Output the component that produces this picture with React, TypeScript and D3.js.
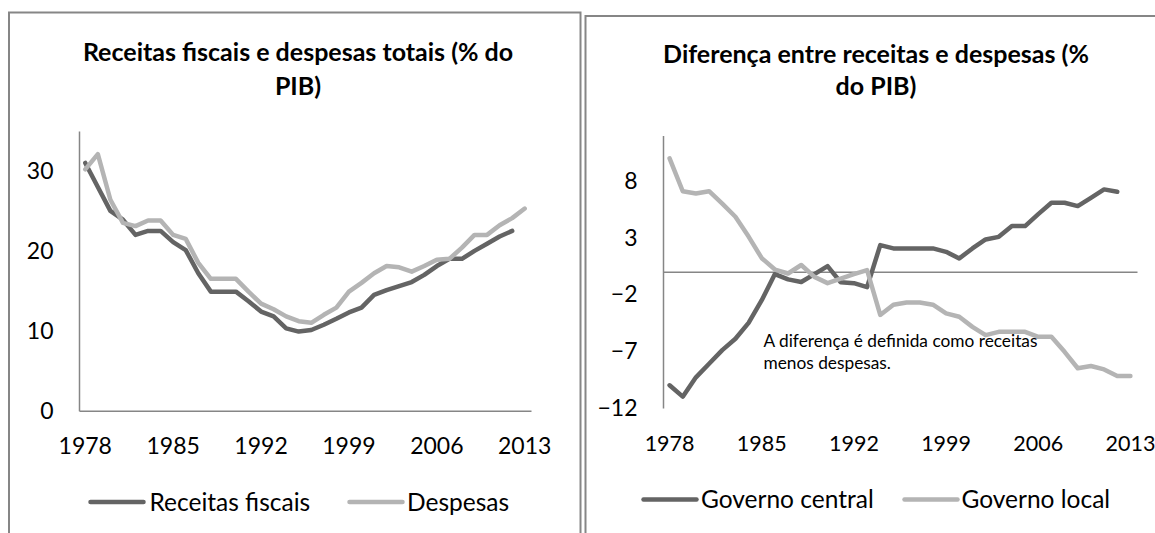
import { useEffect, useRef } from "react";
import * as d3 from "d3";

const years = d3.range(1978, 2014);
const xTicks = [1978, 1985, 1992, 1999, 2006, 2013];

// left chart: % of GDP (1978-2012 / 1978-2013)
const receitas = [
  31.0, 28.0, 25.0, 23.9, 22.0, 22.5, 22.5, 21.1, 20.1, 17.2, 14.9, 14.9, 14.9, 13.7, 12.4, 11.8, 10.3, 9.9,
  10.1, 10.75, 11.5, 12.3, 12.9, 14.5, 15.1, 15.6, 16.1, 17.0, 18.1, 19.0, 19.0, 20.0, 20.9, 21.8, 22.5,
];
const despesas = [
  30.2, 32.1, 26.4, 23.5, 23.1, 23.8, 23.8, 22.0, 21.5, 18.5, 16.5, 16.5, 16.5, 14.9, 13.4, 12.7, 11.8, 11.2,
  11.0, 12.0, 12.9, 14.9, 16.0, 17.2, 18.1, 17.95, 17.4, 18.1, 18.9, 19.0, 20.4, 22.0, 22.0, 23.2, 24.1, 25.3,
];
const leftTicks = [0, 10, 20, 30];

// right chart: receitas - despesas
const central = [
  -10.0, -11.0, -9.3, -8.1, -6.9, -5.9, -4.5, -2.5, -0.2, -0.67, -0.9, -0.2, 0.5, -0.93, -1.0, -1.35, 2.35, 2.06,
  2.06, 2.06, 2.06, 1.76, 1.18, 2.06, 2.85, 3.08, 4.03, 4.03, 5.08, 6.08, 6.08, 5.79, 6.52, 7.26, 7.05,
];
const local = [
  10.0, 7.1, 6.9, 7.1, 6.0, 4.85, 3.1, 1.2, 0.2, -0.15, 0.6, -0.45, -1.0, -0.6, -0.2, 0.15, -3.8, -2.9, -2.7,
  -2.7, -2.9, -3.66, -3.96, -4.85, -5.58, -5.29, -5.29, -5.29, -5.73, -5.73, -7.05, -8.5, -8.3, -8.6, -9.19,
  -9.19,
];
const rightTicks = [-12, -7, -2, 3, 8];

const DARK = "#646464";
const LIGHT = "#b4b4b4";
const AXIS = "#868686";
const FONT = "Lato, 'Open Sans', sans-serif";

type Panel = {
  titles: string[];
  titleX: number;
  titleY: number[];
  x0: number;
  x1: number;
  yDomain: [number, number];
  yRange: [number, number];
  yTicks: number[];
  xLabelY: number;
  xLabelSize: number;
  series: { name: string; values: number[]; color: string; lx: number; tx: number }[];
  legendY: number;
};

export default function App() {
  const svgRef = useRef<SVGSVGElement | null>(null);

  useEffect(() => {
    const svg = d3.select(svgRef.current);
    svg.selectAll("*").remove();

    // chart frames
    svg.append("rect").attr("x", 9).attr("y", 12.5).attr("width", 571.5).attr("height", 540)
      .attr("fill", "white").attr("stroke", AXIS).attr("stroke-width", 2);
    svg.append("rect").attr("x", 585.5).attr("y", 16).attr("width", 600).attr("height", 540)
      .attr("fill", "white").attr("stroke", AXIS).attr("stroke-width", 2);

    const panels: Panel[] = [
      {
        titles: ["Receitas fiscais e despesas totais (% do", "PIB)"],
        titleX: 298,
        titleY: [52, 86],
        x0: 79,
        x1: 531,
        yDomain: [0, 35],
        yRange: [410.7, 131],
        yTicks: leftTicks,
        xLabelY: 446,
        xLabelSize: 23,
        series: [
          { name: "Receitas fiscais", values: receitas, color: DARK, lx: 90.5, tx: 149.5 },
          { name: "Despesas", values: despesas, color: LIGHT, lx: 349.5, tx: 407 },
        ],
        legendY: 502,
      },
      {
        titles: ["Diferença entre receitas e despesas (%", "do PIB)"],
        titleX: 876,
        titleY: [54, 86.5],
        x0: 663,
        x1: 1137,
        yDomain: [-12, 12],
        yRange: [408, 135.6],
        yTicks: rightTicks,
        xLabelY: 443,
        xLabelSize: 21.5,
        series: [
          { name: "Governo central", values: central, color: DARK, lx: 643.5, tx: 701 },
          { name: "Governo local", values: local, color: LIGHT, lx: 904.5, tx: 961.5 },
        ],
        legendY: 499.5,
      },
    ];

    panels.forEach((p) => {
      const g = svg.append("g").style("font-family", FONT);

      const x = d3.scaleBand<number>().domain(years).range([p.x0, p.x1]).padding(0);
      const y = d3.scaleLinear().domain(p.yDomain).range(p.yRange);
      const cx = (yr: number) => (x(yr) ?? 0) + x.bandwidth() / 2;

      p.titles.forEach((t, i) => {
        g.append("text")
          .attr("x", p.titleX)
          .attr("y", p.titleY[i])
          .attr("dy", "0.35em")
          .attr("text-anchor", "middle")
          .attr("font-weight", "bold")
          .attr("font-size", 25)
          .attr("fill", "#000")
          .text(t);
      });

      // y axis
      const yAxis = g.append("g")
        .attr("transform", `translate(${p.x0},0)`)
        .call(d3.axisLeft(y).tickValues(p.yTicks).tickSize(0).tickSizeOuter(0).tickPadding(25.5)
          .tickFormat(d3.format("d")));
      yAxis.select(".domain").attr("stroke", AXIS).attr("stroke-width", 1.5);
      yAxis.selectAll("text").attr("font-size", 23).attr("fill", "#000").attr("font-family", FONT);

      // x axis line at zero
      const zero = g.append("g")
        .attr("transform", `translate(0,${y(0)})`)
        .call(d3.axisBottom(x).tickValues([]).tickSizeOuter(0));
      zero.select(".domain").attr("stroke", AXIS).attr("stroke-width", 1.5);

      // x labels
      const xAxis = g.append("g")
        .attr("transform", `translate(0,${p.xLabelY})`)
        .call(d3.axisBottom(x).tickValues(xTicks).tickSize(0).tickSizeOuter(0));
      xAxis.select(".domain").remove();
      xAxis.selectAll("text").attr("y", 0).attr("dy", "0.35em")
        .attr("font-size", p.xLabelSize).attr("fill", "#000").attr("font-family", FONT);

      const line = d3.line<number>()
        .x((_, i) => cx(years[i]))
        .y((d) => y(d));

      p.series.forEach((s) => {
        g.append("path")
          .datum(s.values)
          .attr("d", line)
          .attr("fill", "none")
          .attr("stroke", s.color)
          .attr("stroke-width", 4.5)
          .attr("stroke-linejoin", "round")
          .attr("stroke-linecap", "round");
      });

      // legend
      p.series.forEach((s) => {
        g.append("line")
          .attr("x1", s.lx).attr("x2", s.lx + 53)
          .attr("y1", p.legendY).attr("y2", p.legendY)
          .attr("stroke", s.color).attr("stroke-width", 4.5).attr("stroke-linecap", "round");
        g.append("text")
          .attr("x", s.tx).attr("y", p.legendY).attr("dy", "0.35em")
          .attr("font-size", 24.5).attr("fill", "#000")
          .text(s.name);
      });
    });

    // note
    const note = svg.append("text").style("font-family", FONT).attr("font-size", 17.3).attr("fill", "#000");
    note.append("tspan").attr("x", 763.5).attr("y", 341).attr("dy", "0.35em")
      .text("A diferença é definida como receitas");
    note.append("tspan").attr("x", 763.5).attr("y", 363).attr("dy", "0.35em").text("menos despesas.");
  }, []);

  return (
    <svg
      ref={svgRef}
      width={1155}
      height={533}
      style={{ position: "absolute", left: 0, top: 0, background: "white" }}
    />
  );
}
